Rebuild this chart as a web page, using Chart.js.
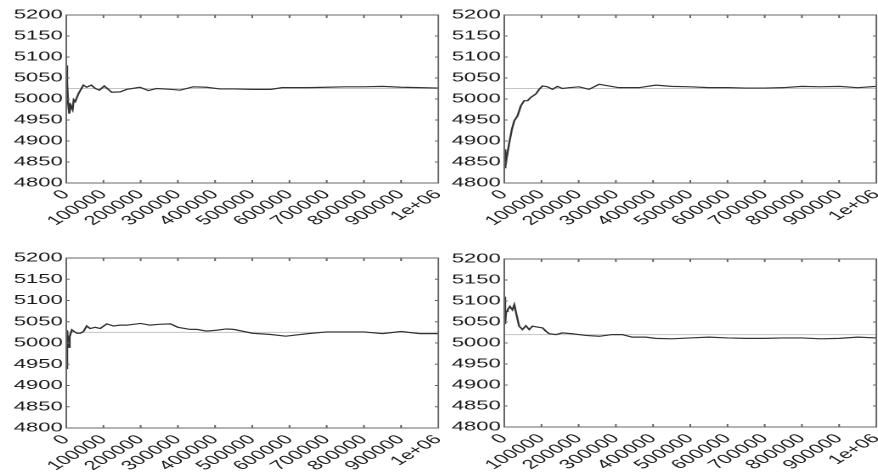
<!DOCTYPE html>
<html>
<head>
<meta charset="utf-8">
<script src="https://cdn.jsdelivr.net/npm/chart.js@4"></script>
<style>
  body { margin: 0; background: #fff; }
  canvas { position: absolute; }
</style>
</head>
<body>
<canvas id="c1" width="259" height="240" style="left:0px;top:0px;width:440px;height:240px"></canvas>
<canvas id="c2" width="259" height="240" style="left:438px;top:0px;width:440px;height:240px"></canvas>
<canvas id="c3" width="259" height="233" style="left:0px;top:240px;width:440px;height:233px"></canvas>
<canvas id="c4" width="259" height="233" style="left:438px;top:240px;width:440px;height:233px"></canvas>
<script>
// tick labels
const xTickLabels = ['0', '100000', '200000', '300000', '400000', '500000', '600000', '700000', '800000', '900000', '1e+06'];
const yMin = 4800, yMax = 5200, yStep = 50;
const refValues = [5025, 5025, 5025, 5020];

// panel 1 (top left)
const p1X = [0, 1500, 3000, 5000, 8000, 12000, 17000, 20000, 24000, 33000, 46000, 55000, 67000, 78000, 89000, 102000, 113000, 122000, 145000, 163000, 198000, 221000, 243000, 279000, 306000, 341000, 377000, 413000, 450000, 500000, 550000, 580000, 650000, 700000, 750000, 800000, 850000, 900000, 950000, 1000000];
const p1Y = [5080, 5000, 5040, 4990, 4965, 4985, 4975, 4998, 4994, 5013, 5033, 5028, 5033, 5025, 5021, 5031, 5023, 5016, 5017, 5023, 5028, 5020, 5025, 5023, 5021, 5029, 5028, 5024, 5024, 5023, 5023, 5027, 5027, 5028, 5029, 5029, 5030, 5028, 5027, 5026];

// panel 2 (top right)
const p2X = [0, 1500, 3000, 4500, 6000, 13400, 20600, 26800, 35700, 44700, 53600, 62600, 71500, 84900, 93800, 102700, 116000, 129500, 143000, 156000, 174000, 201000, 228000, 255000, 281000, 308000, 362000, 407000, 450000, 500000, 550000, 600000, 650000, 700000, 750000, 800000, 850000, 900000, 950000, 1000000];
const p2Y = [4880, 4835, 4870, 4840, 4857, 4896, 4928, 4948, 4960, 4984, 4996, 4996, 5004, 5012, 5023, 5031, 5029, 5023, 5030, 5025, 5027, 5029, 5023, 5035, 5031, 5027, 5027, 5033, 5030, 5029, 5027, 5027, 5026, 5026, 5027, 5030, 5029, 5030, 5027, 5030];

// panel 3 (bottom left)
const p3X = [0, 1000, 2000, 4000, 6000, 9000, 15000, 21000, 29000, 37500, 46000, 55000, 64000, 78000, 91000, 109000, 127000, 145000, 163000, 181000, 200000, 225000, 250000, 280000, 300000, 333000, 351000, 377000, 404000, 430000, 450000, 500000, 550000, 590000, 650000, 700000, 750000, 800000, 850000, 900000, 950000, 1000000];
const p3Y = [4940, 5000, 4950, 5030, 4990, 5015, 5031, 5027, 5023, 5023, 5027, 5040, 5034, 5037, 5034, 5045, 5040, 5042, 5042, 5044, 5046, 5042, 5044, 5045, 5037, 5032, 5032, 5028, 5030, 5033, 5032, 5023, 5020, 5016, 5022, 5026, 5026, 5026, 5022, 5027, 5022, 5022];

// panel 4 (bottom right)
const p4X = [0, 1500, 3000, 5000, 9000, 15000, 22000, 27000, 33000, 40000, 49000, 58000, 67000, 76000, 89000, 103000, 112000, 121000, 139000, 156000, 183000, 219000, 255000, 290000, 317000, 344000, 380000, 407000, 450000, 500000, 550000, 600000, 650000, 700000, 750000, 800000, 850000, 900000, 950000, 1000000];
const p4Y = [5060, 5110, 5045, 5075, 5079, 5087, 5079, 5091, 5067, 5040, 5032, 5041, 5032, 5040, 5038, 5036, 5028, 5022, 5020, 5024, 5022, 5018, 5016, 5020, 5020, 5014, 5014, 5011, 5010, 5012, 5014, 5012, 5011, 5011, 5012, 5012, 5010, 5011, 5014, 5012];

const panels = [
    { id: 'c1', xs: p1X, ys: p1Y, ref: refValues[0], top: 15, axisH: 57 },
    { id: 'c2', xs: p2X, ys: p2Y, ref: refValues[1], top: 15, axisH: 57 },
    { id: 'c3', xs: p3X, ys: p3Y, ref: refValues[2], top: 18, axisH: 45 },
    { id: 'c4', xs: p4X, ys: p4Y, ref: refValues[3], top: 19, axisH: 46 }
];

// box around the plot with small inward ticks on all sides
const boxPlugin = {
    id: 'box',
    afterDatasetsDraw(chart) {
        const { ctx, chartArea: a, scales: { x, y } } = chart;
        ctx.save();
        ctx.strokeStyle = '#666';
        ctx.lineWidth = 1;
        ctx.strokeRect(a.left, a.top, a.width, a.height);
        ctx.beginPath();
        x.ticks.forEach(t => {
            const px = x.getPixelForValue(t.value);
            ctx.moveTo(px, a.top); ctx.lineTo(px, a.top + 3);
            ctx.moveTo(px, a.bottom); ctx.lineTo(px, a.bottom - 3);
        });
        y.ticks.forEach(t => {
            const py = y.getPixelForValue(t.value);
            ctx.moveTo(a.left, py); ctx.lineTo(a.left + 2, py);
            ctx.moveTo(a.right, py); ctx.lineTo(a.right - 2, py);
        });
        ctx.stroke();
        ctx.restore();
    }
};

const tickFont = { family: 'Liberation Sans', size: 13 };

function drawPanel(p) {
    const points = p.xs.map((v, i) => ({ x: v, y: p.ys[i] }));
    new Chart(p.id, {
        type: 'line',
        data: {
            datasets: [{
                data: points,
                borderColor: '#333',
                borderWidth: 1.2,
                pointRadius: 0,
                tension: 0
            }, {
                data: [{ x: 0, y: p.ref }, { x: 1000000, y: p.ref }],
                borderColor: '#c4c4c4',
                borderWidth: 1,
                pointRadius: 0
            }]
        },
        options: {
            responsive: false,
            devicePixelRatio: 2,
            animation: false,
            layout: { padding: { top: p.top, right: 1, left: 0, bottom: 0 } },
            plugins: { legend: { display: false }, tooltip: { enabled: false } },
            scales: {
                x: {
                    type: 'linear',
                    min: 0,
                    max: 1000000,
                    grid: { display: false, drawTicks: false, tickLength: 0 },
                    border: { display: true, color: '#666' },
                    ticks: {
                        stepSize: 100000,
                        autoSkip: false,
                        minRotation: 45,
                        maxRotation: 45,
                        padding: 4,
                        color: '#1a1a1a',
                        font: tickFont,
                        callback: (v, i) => xTickLabels[i]
                    },
                    afterFit: s => { s.height = p.axisH; s.paddingLeft = 0; s.paddingRight = 0; }
                },
                y: {
                    min: yMin,
                    max: yMax,
                    grid: { display: false, drawTicks: false, tickLength: 0 },
                    border: { display: true, color: '#666' },
                    ticks: {
                        stepSize: yStep,
                        padding: 2,
                        color: '#1a1a1a',
                        font: tickFont,
                        callback: v => String(v)
                    },
                    afterFit: s => { s.width = 39; }
                }
            }
        },
        plugins: [boxPlugin]
    });
}

panels.forEach(drawPanel);
</script>
</body>
</html>
